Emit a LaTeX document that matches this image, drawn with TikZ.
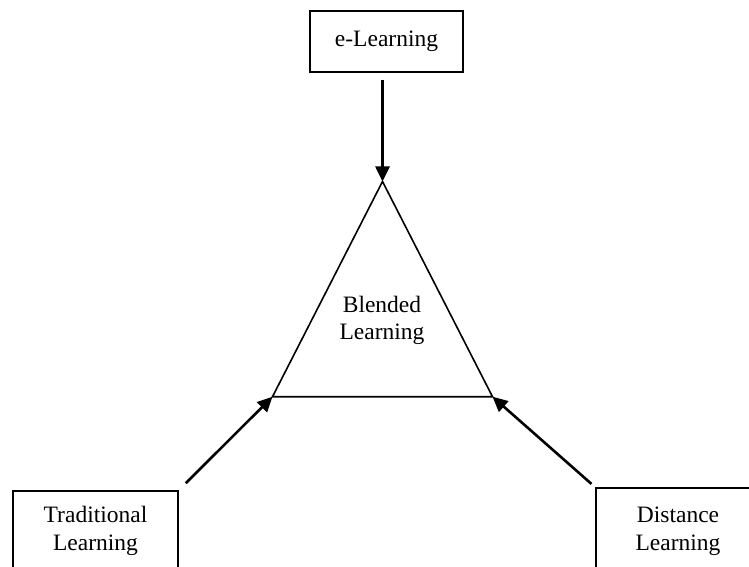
\documentclass[tikz,border=0pt]{standalone}
\usepackage{fontspec}
\setmainfont{Liberation Serif}
\usetikzlibrary{arrows.meta}
\begin{document}
\begin{tikzpicture}[x=1pt,y=1pt,
  box/.style={draw, line width=1.5pt, inner sep=0pt, align=center,
    font=\fontsize{23.5}{28.5}\selectfont},
  conn/.style={line width=2.6pt, -{Triangle[length=15pt,width=14pt]}},
  tri/.style={draw, line width=1.6pt, line join=miter}]
\useasboundingbox (0,0) rectangle (749,566);
% triangle corners
\coordinate (apex) at (382.5,384.5);
\coordinate (bl) at (272.5,169.3);
\coordinate (br) at (492.5,169.3);
\draw[tri] (apex) -- (br) -- (bl) -- cycle;
\node[align=center, font=\fontsize{23.5}{27}\selectfont] (blend) at (382,246) {Blended\\Learning};
% boxes
\node[box, minimum width=153pt, minimum height=61pt] (elearn) at (386.5,524.5) {e-Learning};
\node[box, minimum width=165pt, minimum height=80pt] (trad) at (95.5,35) {Traditional\\Learning};
\node[box, minimum width=164pt, minimum height=86pt] (dist) at (678,35) {Distance\\Learning};
% connectors
\draw[conn, shorten <=7pt] (elearn.south -| apex) -- (apex);
\draw[conn, shorten <=10pt] (trad.north east) -- (bl);
\draw[conn, shorten <=5pt] (dist.north west) -- (br);
\end{tikzpicture}
\end{document}
